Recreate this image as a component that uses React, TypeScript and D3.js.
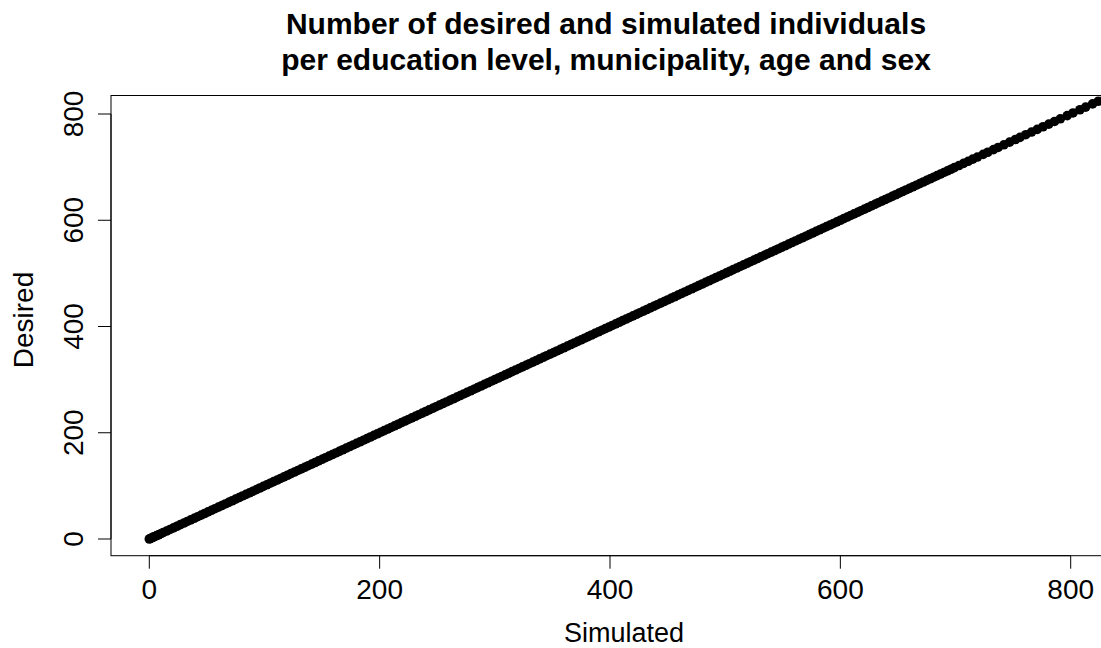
import React from "react";
import * as d3 from "d3";

const simulated = [0,1,2,3,4,6,8,10,12,15,18,21,24,27,30,33,36,39,42,45,48,51,54,57,60,63,66,69,72,75,78,81,84,87,90,93,96,99,102,105,108,111,114,117,120,123,126,129,132,135,138,141,144,147,150,153,156,159,162,165,168,171,174,177,180,183,186,189,192,195,198,201,204,207,210,213,216,219,222,225,228,231,234,237,240,243,246,249,252,255,258,261,264,267,270,273,276,279,282,285,288,291,294,297,300,303,306,309,312,315,318,321,324,327,330,333,336,339,342,345,348,351,354,357,360,363,366,369,372,375,378,381,384,387,390,393,396,399,402,405,408,411,414,417,420,423,426,429,432,435,438,441,444,447,450,453,456,459,462,465,468,471,474,477,480,483,486,489,492,495,498,501,504,507,510,513,516,519,522,525,528,531,534,537,540,543,546,549,552,555,558,561,564,567,570,573,576,579,582,585,588,591,594,597,600,603,606,609,612,615,618,621,624,627,630,633,636,639,642,645,648,651,654,657,660,663,666,669,672,675,678,681,684,687,690,693,696,699,703,707,711,715,719,724,728,733,737,742,747,752,756,761,766,771,776,781,786,791,797,802,808,813,819,824,830,836];
const desired = [0,1,2,3,4,6,8,10,12,15,18,21,24,27,30,33,36,39,42,45,48,51,54,57,60,63,66,69,72,75,78,81,84,87,90,93,96,99,102,105,108,111,114,117,120,123,126,129,132,135,138,141,144,147,150,153,156,159,162,165,168,171,174,177,180,183,186,189,192,195,198,201,204,207,210,213,216,219,222,225,228,231,234,237,240,243,246,249,252,255,258,261,264,267,270,273,276,279,282,285,288,291,294,297,300,303,306,309,312,315,318,321,324,327,330,333,336,339,342,345,348,351,354,357,360,363,366,369,372,375,378,381,384,387,390,393,396,399,402,405,408,411,414,417,420,423,426,429,432,435,438,441,444,447,450,453,456,459,462,465,468,471,474,477,480,483,486,489,492,495,498,501,504,507,510,513,516,519,522,525,528,531,534,537,540,543,546,549,552,555,558,561,564,567,570,573,576,579,582,585,588,591,594,597,600,603,606,609,612,615,618,621,624,627,630,633,636,639,642,645,648,651,654,657,660,663,666,669,672,675,678,681,684,687,690,693,696,699,703,707,711,715,719,724,728,733,737,742,747,752,756,761,766,771,776,781,786,791,797,802,808,813,819,824,830,836];
const xTicks = [0, 200, 400, 600, 800];
const yTicks = [0, 200, 400, 600, 800];
const titleLines = ["Number of desired and simulated individuals", "per education level, municipality, age and sex"];

export default function App() {
  const W = 1101, H = 648;
  const x = d3.scaleLinear().domain([0, 800]).range([149.3, 1070.7]);
  const y = d3.scaleLinear().domain([0, 800]).range([539, 114]);
  const box = { l: 111, t: 95.5, r: 1146, b: 555.7 };
  const font = "'Liberation Sans', Arial, Helvetica, sans-serif";
  return (
    <svg width={W} height={H} style={{ position: "absolute", left: 0, top: 0, background: "#fff" }} fontFamily={font}>
      <defs>
        <clipPath id="plotclip">
          <rect x={box.l} y={box.t} width={box.r - box.l} height={box.b - box.t} />
        </clipPath>
      </defs>
      <rect x={0} y={0} width={W} height={H} fill="#fff" />
      {titleLines.map((t, i) => (
        <text key={i} x={606} y={34 + i * 36} textAnchor="middle" fontSize={30} fontWeight="bold" fill="#000">{t}</text>
      ))}
      <g clipPath="url(#plotclip)">
        {simulated.map((s, i) => (
          <circle key={i} cx={x(s)} cy={y(desired[i])} r={4.8} fill="#000" />
        ))}
      </g>
      <rect x={box.l} y={box.t} width={box.r - box.l} height={box.b - box.t} fill="none" stroke="#000" strokeWidth={1} />
      <line x1={x(xTicks[0])} x2={x(xTicks[xTicks.length - 1])} y1={box.b} y2={box.b} stroke="#000" strokeWidth={1} />
      {xTicks.map((t) => (
        <g key={t}>
          <line x1={x(t)} x2={x(t)} y1={box.b} y2={box.b + 13} stroke="#000" strokeWidth={1} />
          <text x={x(t)} y={599} textAnchor="middle" fontSize={28} fill="#000">{t}</text>
        </g>
      ))}
      <line x1={box.l} x2={box.l} y1={y(yTicks[0])} y2={y(yTicks[yTicks.length - 1])} stroke="#000" strokeWidth={1} />
      {yTicks.map((t) => (
        <g key={t}>
          <line x1={box.l - 13} x2={box.l} y1={y(t)} y2={y(t)} stroke="#000" strokeWidth={1} />
          <text transform={`translate(83,${y(t)}) rotate(-90)`} textAnchor="middle" fontSize={28} fill="#000">{t}</text>
        </g>
      ))}
      <text x={624} y={642} textAnchor="middle" fontSize={27} fill="#000">Simulated</text>
      <text transform={`translate(33,320) rotate(-90)`} textAnchor="middle" fontSize={28} fill="#000">Desired</text>
    </svg>
  );
}
